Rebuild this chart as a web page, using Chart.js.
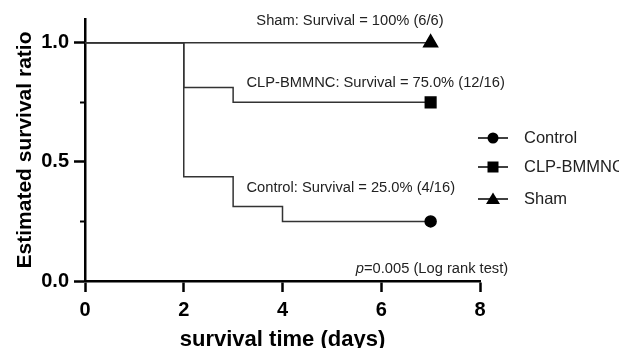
<!DOCTYPE html>
<html>
<head>
<meta charset="utf-8">
<script src="https://cdn.jsdelivr.net/npm/chart.js@4.4.0/dist/chart.umd.min.js"></script>
<style>
  html, body { margin: 0; padding: 0; background: #fff; }
  #wrap { width: 619px; height: 348px; }
</style>
</head>
<body>
<div id="wrap"><canvas id="chart"></canvas></div>
<script>
// survival data (days, survival ratio)
const shamDays = [0, 7];
const shamSurv = [1.0, 1.0];
const bmmncDays = [0, 2, 3, 7];
const bmmncSurv = [1.0, 0.8125, 0.75, 0.75];
const controlDays = [0, 2, 3, 4, 7];
const controlSurv = [1.0, 0.4375, 0.3125, 0.25, 0.25];

const xTicks = [0, 2, 4, 6, 8];
const yTicks = [0, 0.25, 0.5, 0.75, 1.0];
const yLabels = [0, 0.5, 1.0];

const legendNames = ["Control", "CLP-BMMNC", "Sham"];
const legendMarks = ["circle", "rect", "triangle"];

// annotation texts: [text, x, y]
const notes = [
  ["Sham: Survival = 100% (6/6)", 3.47, 1.09],
  ["CLP-BMMNC: Survival = 75.0% (12/16)", 3.27, 0.832],
  ["Control: Survival = 25.0% (4/16)", 3.27, 0.391]
];

const FONT = "'Liberation Sans', Arial, sans-serif";
const LINE = "#333";

function pts(xs, ys) {
  return xs.map((x, i) => ({ x: x, y: ys[i] }));
}
function lastOnly(n, r) {
  return Array.from({ length: n }, (_, i) => (i === n - 1 ? r : 0));
}

const annotate = {
  id: "annotate",
  afterDraw(chart) {
    const ctx = chart.ctx;
    const xs = chart.scales.x, ys = chart.scales.y;
    ctx.save();
    // minor y ticks
    ctx.strokeStyle = "#000";
    ctx.lineWidth = 2;
    [0.25, 0.75].forEach(v => {
      const py = Math.round(ys.getPixelForValue(v)) + 0.5;
      ctx.beginPath();
      ctx.moveTo(xs.left - 5, py);
      ctx.lineTo(xs.left, py);
      ctx.stroke();
    });
    // curve labels
    ctx.fillStyle = "#222";
    ctx.font = "14.7px " + FONT;
    ctx.textBaseline = "middle";
    ctx.textAlign = "left";
    notes.forEach(n => {
      ctx.fillText(n[0], xs.getPixelForValue(n[1]), ys.getPixelForValue(n[2]));
    });
    // p value
    const right = xs.getPixelForValue(8.57);
    const py = ys.getPixelForValue(0.05);
    ctx.textAlign = "right";
    const rest = "=0.005 (Log rank test)";
    ctx.fillText(rest, right, py);
    const w = ctx.measureText(rest).width;
    ctx.font = "italic 14.7px " + FONT;
    ctx.fillText("p", right - w, py);
    // legend
    const lx = 478;
    const ly = [138, 167, 199];
    ctx.font = "16.5px " + FONT;
    ctx.textAlign = "left";
    legendNames.forEach((name, i) => {
      const y = ly[i];
      ctx.strokeStyle = "#000";
      ctx.lineWidth = 1.5;
      ctx.beginPath();
      ctx.moveTo(lx, y);
      ctx.lineTo(lx + 30, y);
      ctx.stroke();
      ctx.fillStyle = "#000";
      const cx = lx + 15;
      ctx.beginPath();
      if (legendMarks[i] === "circle") {
        ctx.arc(cx, y, 5.5, 0, Math.PI * 2);
      } else if (legendMarks[i] === "rect") {
        ctx.rect(cx - 5.5, y - 5.5, 11, 11);
      } else {
        ctx.moveTo(cx, y - 6.5);
        ctx.lineTo(cx + 7, y + 5);
        ctx.lineTo(cx - 7, y + 5);
        ctx.closePath();
      }
      ctx.fill();
      ctx.fillStyle = "#222";
      ctx.fillText(name, lx + 46, y);
    });
    ctx.restore();
  }
};

function series(label, xs, ys, style, r) {
  return {
    label: label,
    data: pts(xs, ys),
    stepped: "before",
    borderColor: LINE,
    borderWidth: 1.5,
    backgroundColor: "#000",
    pointBackgroundColor: "#000",
    pointBorderColor: "#000",
    pointStyle: style,
    pointRadius: lastOnly(xs.length, r),
    pointHoverRadius: lastOnly(xs.length, r),
    fill: false
  };
}

new Chart(document.getElementById("chart"), {
  type: "line",
  data: {
    datasets: [
      series("Sham", shamDays, shamSurv, "triangle", 8),
      series("CLP-BMMNC", bmmncDays, bmmncSurv, "rect", 7.5),
      series("Control", controlDays, controlSurv, "circle", 5.5)
    ]
  },
  options: {
    responsive: true,
    maintainAspectRatio: false,
    animation: false,
    events: [],
    clip: false,
    layout: { padding: { left: 0, right: 139, top: 19, bottom: 0 } },
    plugins: { legend: { display: false }, tooltip: { enabled: false } },
    scales: {
      x: {
        type: "linear",
        min: 0,
        max: 8,
        afterBuildTicks: s => { s.ticks = xTicks.map(v => ({ value: v })); },
        afterFit: s => { s.height = 67; },
        border: { display: true, color: "#000", width: 2.5 },
        grid: { drawOnChartArea: false, tickLength: 11, tickColor: "#000", tickWidth: 2.5 },
        ticks: {
          color: "#000",
          padding: 6,
          maxRotation: 0,
          font: { family: FONT, size: 20, weight: "bold" }
        },
        title: {
          display: true,
          text: "survival time (days)",
          color: "#000",
          padding: { top: 0, bottom: -5 },
          font: { family: FONT, size: 22, weight: "bold" }
        }
      },
      y: {
        type: "linear",
        min: 0,
        max: 1.1,
        afterBuildTicks: s => { s.ticks = yTicks.map(v => ({ value: v })); },
        afterFit: s => { s.width = 85; },
        border: { display: true, color: "#000", width: 2.5 },
        grid: {
          drawOnChartArea: false,
          tickLength: 11,
          tickWidth: 2.5,
          tickColor: c => (yLabels.includes(c.tick.value) ? "#000" : "rgba(0,0,0,0)")
        },
        ticks: {
          color: "#000",
          padding: 5,
          font: { family: FONT, size: 20, weight: "bold" },
          callback: v => (yLabels.includes(v) ? v.toFixed(1) : "")
        },
        title: {
          display: true,
          text: "Estimated survival ratio",
          color: "#000",
          padding: { top: 13, bottom: 0 },
          font: { family: FONT, size: 21, weight: "bold" }
        }
      }
    }
  },
  plugins: [annotate]
});
</script>
</body>
</html>
